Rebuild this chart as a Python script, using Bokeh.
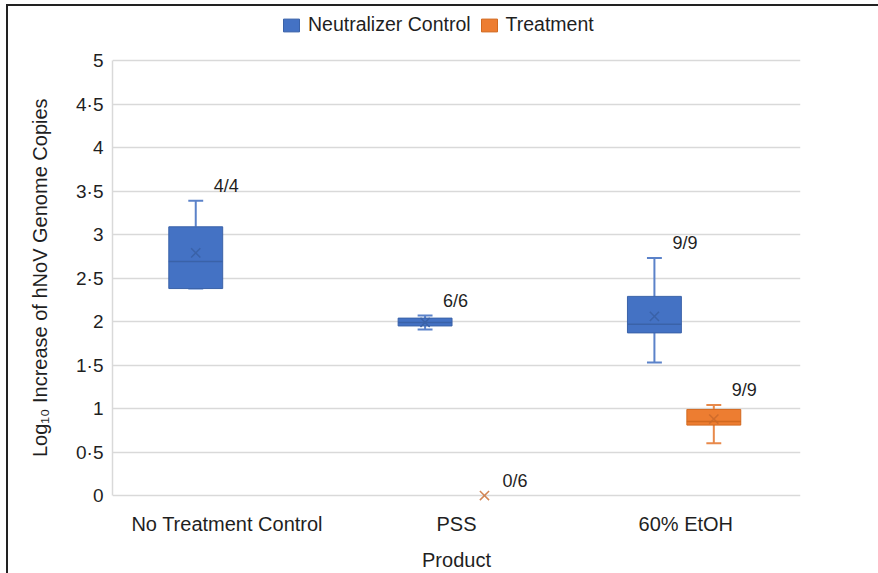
import math
from bokeh.plotting import figure
from bokeh.models import (FactorRange, ColumnDataSource, Legend, LegendItem,
                          FixedTicker, CustomJSTickFormatter)
from bokeh.transform import dodge
from bokeh.embed import file_html
from bokeh.resources import INLINE
from bokeh.core.properties import value

nan = float("nan")

# ---- data ----
categories = ["No Treatment Control", "PSS", "60% EtOH"]

nc_min    = [2.38, 1.91, 1.53]
nc_q1     = [2.38, 1.95, 1.87]
nc_median = [2.69, 1.99, 1.97]
nc_q3     = [3.09, 2.04, 2.29]
nc_max    = [3.39, 2.07, 2.73]
nc_mean   = [2.79, 1.99, 2.06]
nc_labels = ["4/4", "6/6", "9/9"]

tr_min    = [nan, nan, 0.60]
tr_q1     = [nan, nan, 0.81]
tr_median = [nan, nan, 0.85]
tr_q3     = [nan, nan, 0.99]
tr_max    = [nan, nan, 1.04]
tr_mean   = [nan, 0.00, 0.88]
tr_labels = ["", "0/6", "9/9"]

y_ticks = [0, 0.5, 1, 1.5, 2, 2.5, 3, 3.5, 4, 4.5, 5]

FONT = "Liberation Sans"
TXT = "#1f1f1f"
GRID = "#d9d9d9"

W, H = 878, 573
p = figure(x_range=FactorRange(*categories), y_range=(-0.08, 5.6),
           width=W, height=H, output_backend="svg", toolbar_location=None,
           min_border_left=112, min_border_right=78,
           min_border_top=8, min_border_bottom=70)
p.outline_line_color = None
p.background_fill_color = "white"
p.border_fill_alpha = 0
p.styles = {"background": "linear-gradient(#222,#222) 6px 4px / 2px 100% no-repeat, "
                          "linear-gradient(#222,#222) 6px 4px / 100% 2px no-repeat, #ffffff"}

# axes
p.yaxis.ticker = FixedTicker(ticks=y_ticks)
p.yaxis.formatter = CustomJSTickFormatter(code="return tick.toString().replace('.', '\u00b7');")
p.yaxis.bounds = (0, 5)
for ax in (p.xaxis[0], p.yaxis[0]):
    ax.axis_line_color = GRID
    ax.axis_line_width = 1.5
    ax.major_tick_line_color = None
    ax.minor_tick_line_color = None
    ax.major_tick_out = 0
    ax.major_tick_in = 0
    ax.major_label_text_font = FONT
    ax.major_label_text_color = TXT
    ax.axis_label_text_font = FONT
    ax.axis_label_text_font_size = "20px"
    ax.axis_label_text_font_style = "normal"
    ax.axis_label_text_color = TXT
p.xaxis.axis_line_color = None
p.yaxis.major_label_text_font_size = "19px"
p.yaxis.major_label_standoff = 9
# trailing no-break spaces centre the visible label on the 0–5 span, as in the reference
p.yaxis.axis_label = "Log\u2081\u2080 Increase of hNoV Genome Copies" + "\u00a0" * 8
p.yaxis.axis_label_standoff = 22
p.xaxis.major_label_text_font_size = "20px"
p.xaxis.major_label_standoff = 10
p.xaxis.axis_label = "Product"
p.xaxis.axis_label_standoff = 11

p.xgrid.grid_line_color = None
p.ygrid.grid_line_color = GRID
p.ygrid.grid_line_width = 1.5

# ---- sources ----
OFF_NC, OFF_TR = -0.137, 0.122
BOX_W, CAP_W = 0.235, 0.065

def label_y(mx, mean):
    return [(m if not math.isnan(m) else mn) + 0.17 for m, mn in zip(mx, mean)]

nc = ColumnDataSource(dict(cat=categories, lo=nc_min, q1=nc_q1, med=nc_median,
                           q3=nc_q3, hi=nc_max, mean=nc_mean, lab=nc_labels,
                           ly=label_y(nc_max, nc_mean)))
tr = ColumnDataSource(dict(cat=categories, lo=tr_min, q1=tr_q1, med=tr_median,
                           q3=tr_q3, hi=tr_max, mean=tr_mean, lab=tr_labels,
                           ly=label_y(tr_max, tr_mean)))

def draw(src, off, fill, edge, whisk, mean_col, mean_alpha):
    xc = dodge("cat", off, range=p.x_range)
    xl = dodge("cat", off - CAP_W / 2, range=p.x_range)
    xr = dodge("cat", off + CAP_W / 2, range=p.x_range)
    bl = dodge("cat", off - BOX_W / 2, range=p.x_range)
    br = dodge("cat", off + BOX_W / 2, range=p.x_range)
    p.segment(x0=xc, y0="q3", x1=xc, y1="hi", source=src, line_color=whisk, line_width=2)
    p.segment(x0=xc, y0="q1", x1=xc, y1="lo", source=src, line_color=whisk, line_width=2)
    p.segment(x0=xl, y0="hi", x1=xr, y1="hi", source=src, line_color=whisk, line_width=2)
    p.segment(x0=xl, y0="lo", x1=xr, y1="lo", source=src, line_color=whisk, line_width=2)
    box = p.vbar(x=xc, width=BOX_W, bottom="q1", top="q3", source=src,
                 fill_color=fill, line_color=edge, line_width=1)
    p.segment(x0=bl, y0="med", x1=br, y1="med", source=src, line_color=edge, line_width=1.5)
    p.scatter(x=xc, y="mean", source=src, marker="x", size=13,
              line_color=mean_col, line_width=1.5, line_alpha=mean_alpha)
    p.text(x=xc, y="ly", text="lab", source=src, x_offset=18,
           text_baseline="middle", text_align="left",
           text_font=value(FONT), text_font_size="18px", text_color=TXT)
    return box

nc_box = draw(nc, OFF_NC, "#4472C4", "#3A62A8", "#5B82C9", "#3A62A8", 1.0)
tr_box = draw(tr, OFF_TR, "#ED7D31", "#D2691F", "#E8894A", "#C8682A", 0.8)

legend = Legend(items=[LegendItem(label="Neutralizer Control", renderers=[nc_box]),
                       LegendItem(label="Treatment", renderers=[tr_box])],
                orientation="horizontal", location=(169, 466),
                border_line_color=None, background_fill_alpha=0,
                padding=0, margin=0, spacing=8, label_standoff=7,
                glyph_width=20, glyph_height=16, label_height=16,
                label_text_font=FONT, label_text_font_size="19.5px",
                label_text_color=TXT)
p.add_layout(legend, "center")

open("out.html", "w").write(file_html(p, INLINE))
